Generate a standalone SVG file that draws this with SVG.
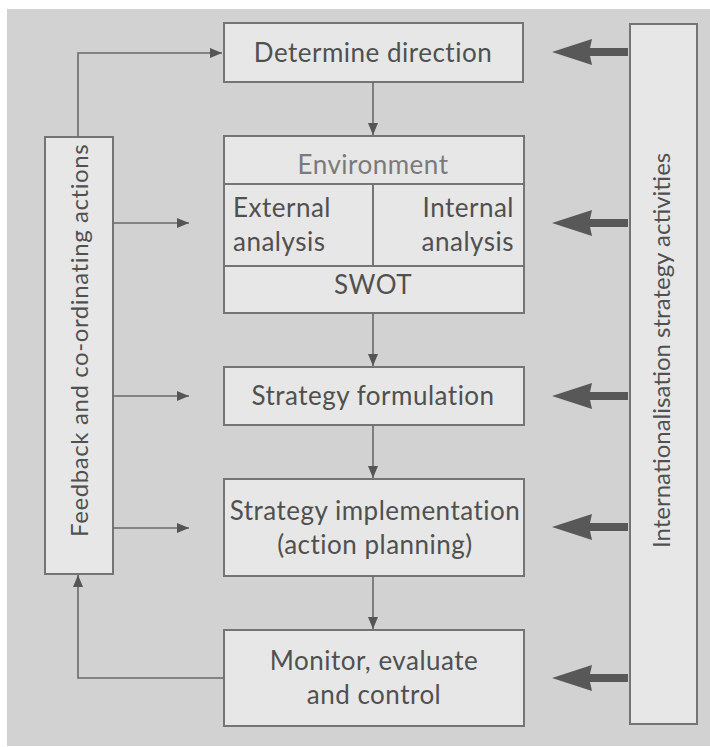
<svg xmlns="http://www.w3.org/2000/svg" width="710" height="747" viewBox="0 0 710 747">
  <style>
    .box { fill: #e7e7e7; stroke: #747474; stroke-width: 2; }
    .div { stroke: #747474; stroke-width: 2; fill: none; }
    .lbl { font-family: Lato, "Open Sans", "Liberation Sans", sans-serif; font-size: 26px; letter-spacing: 0.5px; fill: #505050; }
    .side { font-size: 24px; letter-spacing: 0.2px; }
    .mid { text-anchor: middle; }
    .soft { fill: #7a7a7a; }
    .conn { stroke: #6a6a6a; stroke-width: 1.6; fill: none; }
    .thick { fill: #585858; stroke: none; }
  </style>
  <defs>
    <marker id="tri" viewBox="0 0 12 10" refX="12" refY="5" markerWidth="12" markerHeight="10" markerUnits="userSpaceOnUse" orient="auto">
      <path d="M0,0 L12,5 L0,10 Z" fill="#555"/>
    </marker>
    <path id="fat" d="M0,0 L40,-13 L38,-4 L76,-4 L76,4 L38,4 L40,13 Z"/>
  </defs>

  <rect x="0" y="0" width="710" height="747" fill="#ffffff"/>
  <rect x="7" y="9" width="703" height="737" fill="#d2d2d2"/>

  <!-- main column -->
  <g id="determine">
    <rect class="box" x="224" y="23" width="299" height="59"/>
    <text class="lbl mid" x="373" y="62">Determine direction</text>
  </g>

  <g id="environment">
    <rect class="box" x="224" y="136" width="300" height="177"/>
    <line class="div" x1="224" y1="184" x2="524" y2="184"/>
    <line class="div" x1="224" y1="266" x2="524" y2="266"/>
    <line class="div" x1="373" y1="184" x2="373" y2="266"/>
    <text class="lbl mid soft" x="373" y="174">Environment</text>
    <text class="lbl" x="233" y="217">External</text>
    <text class="lbl" x="233" y="251">analysis</text>
    <text class="lbl" x="514" y="217" text-anchor="end">Internal</text>
    <text class="lbl" x="514" y="251" text-anchor="end">analysis</text>
    <text class="lbl mid" x="373" y="294">SWOT</text>
  </g>

  <g id="formulation">
    <rect class="box" x="224" y="367" width="300" height="58"/>
    <text class="lbl mid" x="373" y="405">Strategy formulation</text>
  </g>

  <g id="implementation">
    <rect class="box" x="224" y="479" width="300" height="97"/>
    <text class="lbl mid" x="375" y="520">Strategy implementation</text>
    <text class="lbl mid" x="375" y="554">(action planning)</text>
  </g>

  <g id="monitor">
    <rect class="box" x="224" y="630" width="300" height="96"/>
    <text class="lbl mid" x="374" y="670">Monitor, evaluate</text>
    <text class="lbl mid" x="374" y="704">and control</text>
  </g>

  <!-- side bars -->
  <g id="feedback">
    <rect class="box" x="45" y="137" width="68" height="437"/>
    <text class="lbl side" transform="translate(88,537) rotate(-90)" style="letter-spacing:0.6px">Feedback and co-ordinating actions</text>
  </g>

  <g id="internationalisation">
    <rect class="box" x="630" y="24" width="67" height="700"/>
    <text class="lbl side" transform="translate(670,548) rotate(-90)" style="letter-spacing:0px">Internationalisation strategy activities</text>
  </g>

  <!-- connectors -->
  <g id="connectors">
    <line class="conn" x1="373" y1="82" x2="373" y2="135" marker-end="url(#tri)"/>
    <line class="conn" x1="373" y1="313" x2="373" y2="366" marker-end="url(#tri)"/>
    <line class="conn" x1="373" y1="425" x2="373" y2="478" marker-end="url(#tri)"/>
    <line class="conn" x1="373" y1="576" x2="373" y2="629" marker-end="url(#tri)"/>

    <polyline class="conn" points="224,678 78,678 78,575" marker-end="url(#tri)"/>
    <polyline class="conn" points="78,137 78,53 222,53" marker-end="url(#tri)"/>

    <line class="conn" x1="113" y1="223" x2="189" y2="223" marker-end="url(#tri)"/>
    <line class="conn" x1="113" y1="396" x2="189" y2="396" marker-end="url(#tri)"/>
    <line class="conn" x1="113" y1="528" x2="189" y2="528" marker-end="url(#tri)"/>

    <use href="#fat" class="thick" x="552" y="52"/>
    <use href="#fat" class="thick" x="552" y="223"/>
    <use href="#fat" class="thick" x="552" y="396"/>
    <use href="#fat" class="thick" x="552" y="527"/>
    <use href="#fat" class="thick" x="552" y="678"/>
  </g>
</svg>
